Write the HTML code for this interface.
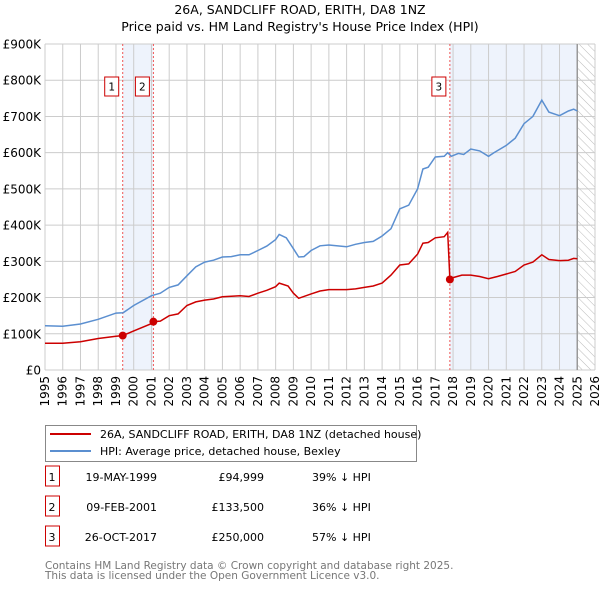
<!DOCTYPE html>
<html><head><meta charset="utf-8"><style>
body{margin:0;background:#fff;}
svg text{font-family:"DejaVu Sans","Liberation Sans",sans-serif;}
</style></head><body>
<svg id="c" width="600" height="590" xmlns="http://www.w3.org/2000/svg">
<defs><pattern id="hatch" width="6" height="6" patternUnits="userSpaceOnUse" patternTransform="rotate(-45)"><line x1="0" y1="0" x2="0" y2="6" stroke="#bbb" stroke-width="1"/></pattern></defs>
<text x="300" y="14" text-anchor="middle" font-size="12.5">26A, SANDCLIFF ROAD, ERITH, DA8 1NZ</text>
<text x="300" y="31" text-anchor="middle" font-size="12.5">Price paid vs. HM Land Registry's House Price Index (HPI)</text>
<g id="plot"></g>
<g>
<rect x="45.5" y="425.5" width="371" height="36" fill="#fff" stroke="#888"/>
<line x1="50" y1="434" x2="91" y2="434" stroke="#cc0000" stroke-width="2"/>
<text x="100" y="438" font-size="11">26A, SANDCLIFF ROAD, ERITH, DA8 1NZ (detached house)</text>
<line x1="50" y1="451" x2="91" y2="451" stroke="#5b8fd0" stroke-width="2"/>
<text x="100" y="455" font-size="11">HPI: Average price, detached house, Bexley</text>
</g>
<g id="tbl" font-size="11"></g>
<text x="45" y="569" font-size="10.5" fill="#777">Contains HM Land Registry data © Crown copyright and database right 2025.</text>
<text x="45" y="579" font-size="10.5" fill="#777">This data is licensed under the Open Government Licence v3.0.</text>
</svg>
<script>
const hpiYears=[1995,1996,1997,1998,1999,1999.4,2000,2001,2001.5,2002,2002.5,2003,2003.5,2004,2004.5,2005,2005.5,2006,2006.5,2007,2007.5,2008,2008.2,2008.6,2009,2009.3,2009.6,2010,2010.5,2011,2012,2012.5,2013,2013.5,2014,2014.5,2015,2015.5,2016,2016.3,2016.6,2017,2017.5,2017.7,2017.9,2018.3,2018.6,2019,2019.5,2020,2020.3,2021,2021.5,2022,2022.5,2023,2023.4,2024,2024.5,2024.8,2025];
const hpiValues=[122,121,127,140,157,158,178,205,212,228,235,260,285,298,303,312,313,318,318,330,342,360,374,365,335,312,313,330,343,345,340,347,352,355,370,390,445,455,500,555,560,588,590,600,590,598,595,610,605,590,600,620,640,680,700,745,712,702,715,720,715];
const propYears=[1995,1996,1997,1998,1999,1999.38,2000,2001,2001.11,2001.5,2002,2002.5,2003,2003.5,2004,2004.5,2005,2006,2006.5,2007,2007.5,2008,2008.2,2008.7,2009,2009.3,2010,2010.5,2011,2012,2012.5,2013,2013.5,2014,2014.5,2015,2015.5,2016,2016.3,2016.6,2017,2017.5,2017.7,2017.82,2018,2018.5,2019,2019.5,2020,2020.5,2021,2021.5,2022,2022.5,2023,2023.4,2024,2024.5,2024.8,2025];
const propValues=[74,74,78,87,93,95,108,128,133.5,135,150,155,178,188,193,196,202,205,203,212,220,230,240,232,212,198,210,218,222,222,224,228,232,240,262,290,293,320,350,352,365,368,380,250,255,262,262,258,252,258,265,272,290,298,318,305,302,303,308,307];
const saleLabels=["1","2","3"];
const saleYears=[1999.38,2001.11,2017.82];
const saleValues=[94.999,133.5,250];
const saleDates=["19-MAY-1999","09-FEB-2001","26-OCT-2017"];
const salePrices=["£94,999","£133,500","£250,000"];
const saleDiffs=["39% ↓ HPI","36% ↓ HPI","57% ↓ HPI"];
const yTicks=[0,100,200,300,400,500,600,700,800,900];
const yTickLabels=["£0","£100K","£200K","£300K","£400K","£500K","£600K","£700K","£800K","£900K"];
const xTicks=[];for(let y=1995;y<=2026;y++)xTicks.push(y);

const L=45,R=595,T=44,B=370,X0=1995,X1=2026,YMAX=900;
const sx=v=>L+(v-X0)/(X1-X0)*(R-L);
const sy=v=>B-v/YMAX*(B-T);
const NS="http://www.w3.org/2000/svg";
const g=document.getElementById('plot');
function mk(tag,attrs,parent){const e=document.createElementNS(NS,tag);for(const k in attrs)e.setAttribute(k,attrs[k]);(parent||g).appendChild(e);return e;}
let e;
e=mk('rect',{x:L,y:T,width:R-L,height:B-T,fill:'#fff'});


e=mk('rect',{x:sx(saleYears[0]),y:T,width:sx(saleYears[1])-sx(saleYears[0]),height:B-T,fill:'#eef3fc'});


e=mk('rect',{x:sx(saleYears[2]),y:T,width:sx(2025)-sx(saleYears[2]),height:B-T,fill:'#eef3fc'});


e=mk('rect',{x:sx(2025),y:T,width:R-sx(2025),height:B-T,fill:'url(#hatch)'});


xTicks.forEach(v=>{const l=mk('line',{x1:sx(v),x2:sx(v),y1:T,y2:B,stroke:'#ccc'});


const t=mk('text',{x:0,y:0,'font-size':12,'text-anchor':'end',transform:`translate(${sx(v)+4},${B+6}) rotate(-90)`});t.textContent=v;

});
yTicks.forEach((v,i)=>{const l=mk('line',{x1:L,x2:R,y1:sy(v),y2:sy(v),stroke:'#ccc'});


const t=mk('text',{x:L-4,y:sy(v)+4.5,'font-size':12,'text-anchor':'end'});t.textContent=yTickLabels[i];

});
e=mk('line',{x1:sx(2025),x2:sx(2025),y1:T,y2:B,stroke:'#999','stroke-width':1.5});


saleYears.forEach((v,i)=>{const l=mk('line',{x1:sx(v),x2:sx(v),y1:T,y2:B,stroke:'#e55','stroke-dasharray':'2,2'});

});
const pts=(xs,ys)=>xs.map((x,i)=>sx(x).toFixed(1)+','+sy(ys[i]).toFixed(1)).join(' ');
e=mk('polyline',{points:pts(hpiYears,hpiValues),fill:'none',stroke:'#5b8fd0','stroke-width':1.5});


e=mk('polyline',{points:pts(propYears,propValues),fill:'none',stroke:'#cc0000','stroke-width':1.5});


saleYears.forEach((v,i)=>{const c=mk('circle',{cx:sx(v),cy:sy(saleValues[i]),r:4,fill:'#cc0000'});


const bx=sx(v)-11;
const r=mk('rect',{x:bx-7,y:77,width:14,height:19,fill:'#fff',stroke:'#cc0000'});


const t=mk('text',{x:bx,y:90.5,'font-size':10.5,'text-anchor':'middle'});t.textContent=saleLabels[i];

});
const tb=document.getElementById('tbl');
const rowY=[483,513,543];
saleLabels.forEach((s,i)=>{const y=rowY[i];
const r=mk('rect',{x:45.5,y:y-17,width:14,height:20,fill:'#fff',stroke:'#cc0000'},tb);


const cells=[[52,s,'middle'],[157,saleDates[i],'end'],[264,salePrices[i],'end'],[312,saleDiffs[i],'start']];
cells.forEach(([x,txt,a])=>{const t=mk('text',{x:x,y:y-2,'text-anchor':a},tb);t.textContent=txt;

});});
</script>
</body></html>
